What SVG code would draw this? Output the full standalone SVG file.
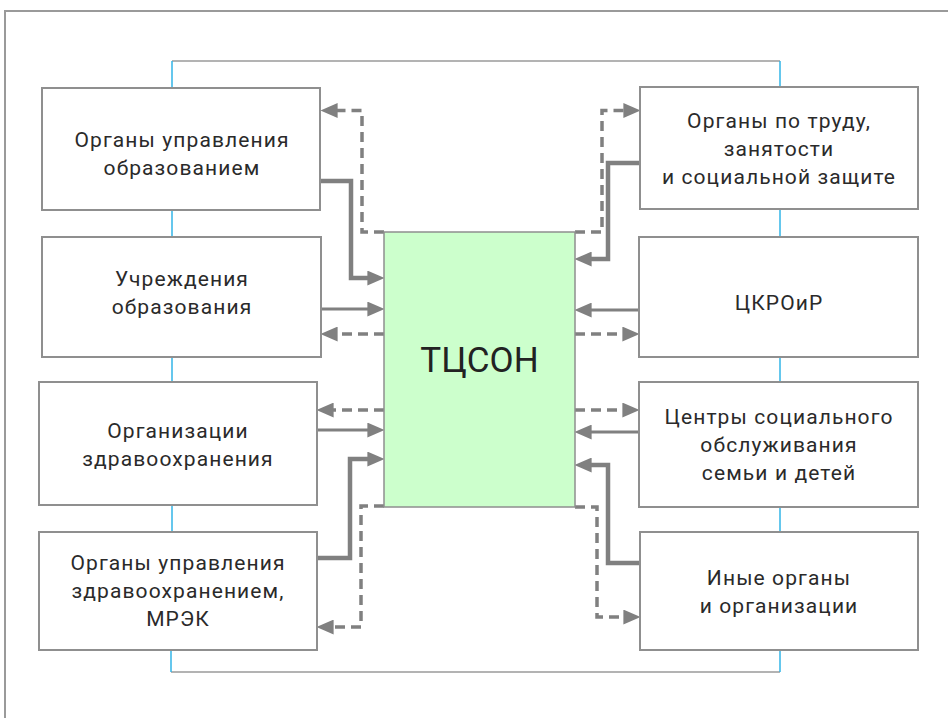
<svg xmlns="http://www.w3.org/2000/svg" width="948" height="718" viewBox="0 0 948 718">
<style>
.box{fill:#ffffff;stroke:#8f8f8f;stroke-width:2}
.center{fill:#ccffcc;stroke:#8f8f8f;stroke-width:1.5}
.lbl{font-family:Roboto,"Liberation Sans",sans-serif;font-size:21px;letter-spacing:1.1px;fill:#2a2a2a;text-anchor:middle}
.big{font-family:Roboto,"Liberation Sans",sans-serif;font-size:35px;fill:#222;text-anchor:middle}
.frame{fill:none;stroke:#9a9a9a;stroke-width:2}
.bus{fill:none;stroke:#9a9a9a;stroke-width:1.5}
.blue{fill:none;stroke:#33b5e8;stroke-width:1.5}
.thick{fill:none;stroke:#808080;stroke-width:4.5;marker-end:url(#ah)}
.thin{fill:none;stroke:#808080;stroke-width:3;marker-end:url(#ah)}
.dash{fill:none;stroke:#808080;stroke-width:3.5;stroke-dasharray:10 6;marker-end:url(#ah)}
</style>
<defs>
<marker id="ah" markerUnits="userSpaceOnUse" markerWidth="17" markerHeight="15" viewBox="0 0 16 14" refX="10" refY="7" orient="auto">
<path d="M0,0 L16,7 L0,14 z" fill="#808080"/>
</marker>
</defs>
<rect width="948" height="718" fill="#ffffff"/>
<path class="frame" d="M5,718 V11 H948"/>
<g id="buses">
<path class="bus" d="M172,61 H780"/>
<path class="bus" d="M171,672 H780"/>
<path class="blue" d="M172,61 V88 M172,210 V237 M172,357 V382 M172,505 V532 M171,650 V672"/>
<path class="blue" d="M780,61 V87 M780,209 V237 M780,357 V382 M780,507 V532 M780,650 V672"/>
</g>
<g id="connectors">
<path class="dash" d="M384,232 H362 V110.5 H327"/>
<path class="dash" d="M575,232 H602 V110.5 H634"/>
<path class="thick" d="M320,181 H351 V278 H378"/>
<path class="thick" d="M640,163 H608 V259 H581"/>
<path class="thin" d="M321,309 H378"/>
<path class="dash" d="M384,334 H327"/>
<path class="dash" d="M384,410 H323"/>
<path class="thin" d="M317,430 H378"/>
<path class="thick" d="M317,558 H350 V459 H378"/>
<path class="dash" d="M384,506 H361 V627 H323"/>
<path class="thin" d="M639,310 H581"/>
<path class="dash" d="M575,334 H633"/>
<path class="dash" d="M575,410 H633"/>
<path class="thin" d="M639,432 H581"/>
<path class="thick" d="M640,563 H608 V465 H581"/>
<path class="dash" d="M575,507 H597 V617 H634"/>
</g>
<g id="tcson">
<rect class="center" x="384" y="232" width="191" height="275"/>
<text class="big" x="479.5" y="372">ТЦСОН</text>
</g>
<g id="n-edu-org">
<rect class="box" x="42" y="88" width="278" height="122"/>
<text class="lbl" x="182" y="147">Органы управления</text>
<text class="lbl" x="182" y="175">образованием</text>
</g>
<g id="n-edu-inst">
<rect class="box" x="42" y="237" width="279" height="120"/>
<text class="lbl" x="182" y="286">Учреждения</text>
<text class="lbl" x="182" y="314">образования</text>
</g>
<g id="n-health-org">
<rect class="box" x="39" y="382" width="278" height="123"/>
<text class="lbl" x="178" y="438">Организации</text>
<text class="lbl" x="178" y="466">здравоохранения</text>
</g>
<g id="n-health-gov">
<rect class="box" x="39" y="532" width="278" height="118"/>
<text class="lbl" x="178" y="570">Органы управления</text>
<text class="lbl" x="178" y="598">здравоохранением,</text>
<text class="lbl" x="178" y="626">МРЭК</text>
</g>
<g id="n-labour">
<rect class="box" x="640" y="87" width="278" height="122"/>
<text class="lbl" x="779" y="128">Органы по труду,</text>
<text class="lbl" x="779" y="156">занятости</text>
<text class="lbl" x="779" y="184">и социальной защите</text>
</g>
<g id="n-ckroir">
<rect class="box" x="639" y="237" width="279" height="120"/>
<text class="lbl" x="779" y="310">ЦКРОиР</text>
</g>
<g id="n-family">
<rect class="box" x="639" y="382" width="279" height="125"/>
<text class="lbl" x="779" y="424">Центры социального</text>
<text class="lbl" x="779" y="452">обслуживания</text>
<text class="lbl" x="779" y="480">семьи и детей</text>
</g>
<g id="n-other">
<rect class="box" x="640" y="532" width="278" height="118"/>
<text class="lbl" x="779" y="585">Иные органы</text>
<text class="lbl" x="779" y="613">и организации</text>
</g>
</svg>
